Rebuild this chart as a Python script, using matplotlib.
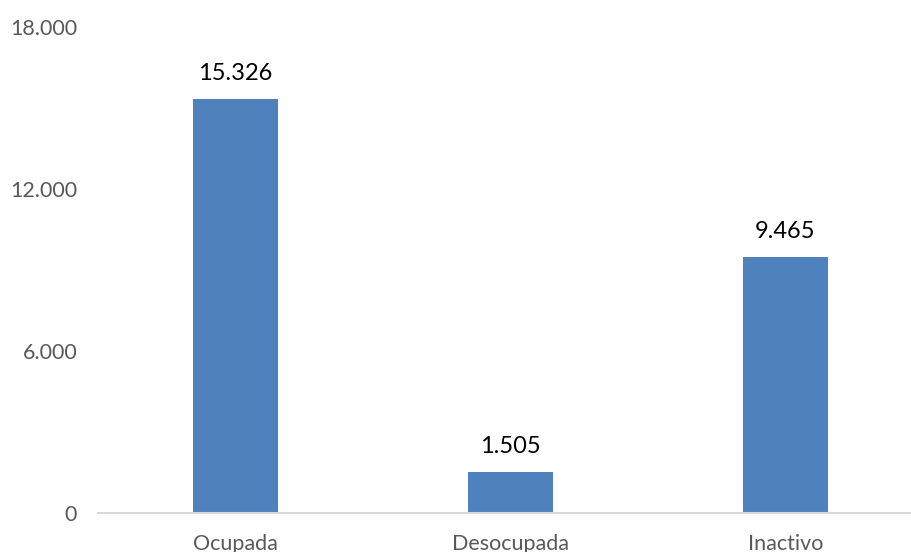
import matplotlib
matplotlib.use("Agg")
import matplotlib.pyplot as plt
from matplotlib.ticker import FuncFormatter

categories = ["Ocupada", "Desocupada", "Inactivo"]
values = [15326, 1505, 9465]
yticks = [0, 6000, 12000, 18000]

plt.rcParams['font.family'] = ['Lato', 'DejaVu Sans']

fig = plt.figure(figsize=(9.12, 5.52), dpi=100)
ax = fig.add_axes([98/912, (552-513)/552, 825/912, 486/552])

x = range(len(categories))
ax.bar(x, values, width=0.31, color="#4F81BD", zorder=2)

def fmt(v):
    return f"{int(round(v)):,}".replace(",", ".")

for xi, v in zip(x, values):
    ax.annotate(fmt(v), (xi, v), xytext=(0, 11), textcoords="offset points",
                ha="center", va="bottom", fontsize=17, color="black")

ax.set_xlim(-0.5, 2.5)
ax.set_ylim(0, 18000)
ax.set_yticks(yticks)
ax.yaxis.set_major_formatter(FuncFormatter(lambda v, p: fmt(v)))
ax.set_xticks(list(x))
ax.set_xticklabels(categories)
ax.tick_params(axis="both", length=0, labelsize=15.5, colors="#595959")
ax.tick_params(axis="y", pad=15)
ax.tick_params(axis="x", pad=15)
for s in ["top", "right", "left"]:
    ax.spines[s].set_visible(False)
ax.spines["bottom"].set_color("#D9D9D9")
ax.spines["bottom"].set_linewidth(1.5)

fig.savefig("out.png", dpi=100)
